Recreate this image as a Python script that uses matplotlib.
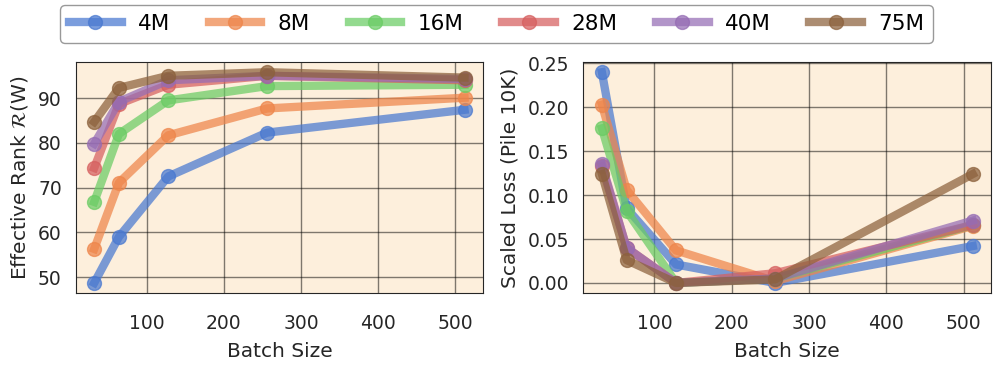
import matplotlib
matplotlib.use("Agg")
import matplotlib.pyplot as plt
import seaborn as sns

batch_sizes = [32, 64, 128, 256, 512]
model_names = ['4M', '8M', '16M', '28M', '40M', '75M']

# effective rank per model, one value per batch size
rank_4m = [48.7, 59.0, 72.5, 82.3, 87.4]
rank_8m = [56.3, 71.1, 81.7, 87.7, 90.1]
rank_16m = [66.8, 82.0, 89.5, 92.7, 93.0]
rank_28m = [74.4, 88.7, 93.0, 95.0, 94.0]
rank_40m = [79.8, 89.2, 94.0, 95.0, 94.3]
rank_75m = [84.7, 92.3, 95.0, 95.8, 94.6]

# scaled loss on pile 10K
loss_4m = [0.240, 0.085, 0.021, 0.000, 0.042]
loss_8m = [0.203, 0.106, 0.037, 0.002, 0.065]
loss_16m = [0.176, 0.082, 0.000, 0.005, 0.066]
loss_28m = [0.133, 0.040, 0.000, 0.011, 0.066]
loss_40m = [0.135, 0.040, 0.000, 0.005, 0.071]
loss_75m = [0.124, 0.026, 0.000, 0.004, 0.124]

rank_data = [rank_4m, rank_8m, rank_16m, rank_28m, rank_40m, rank_75m]
loss_data = [loss_4m, loss_8m, loss_16m, loss_28m, loss_40m, loss_75m]

colors = sns.color_palette('muted', 6)
bg = '#fdefdc'
txt = '#262626'

fig = plt.figure(figsize=(9.96, 3.65), dpi=100)
ax1 = fig.add_axes([0.076, 0.196, 0.409, 0.635])
ax2 = fig.add_axes([0.5857, 0.196, 0.4096, 0.635])

lines = []
for i, name in enumerate(model_names):
    l, = ax1.plot(batch_sizes, rank_data[i], marker='o', markersize=10, linewidth=6,
                  color=colors[i], alpha=0.72, label=name)
    ax2.plot(batch_sizes, loss_data[i], marker='o', markersize=10, linewidth=6,
             color=colors[i], alpha=0.72, label=name)
    lines.append(l)

for ax in (ax1, ax2):
    ax.set_facecolor(bg)
    ax.grid(True, color='black', alpha=0.5, linewidth=1)
    ax.set_axisbelow(True)
    ax.tick_params(length=0, labelsize=13.5, colors=txt)
    ax.tick_params(axis='x', pad=15)
    ax.tick_params(axis='y', pad=10)
    ax.set_xlabel('Batch Size', fontsize=14.5, color=txt, labelpad=6)
    ax.set_xticks([100, 200, 300, 400, 500])
    for s in ax.spines.values():
        s.set_color(txt)

ax1.set_yticks([50, 60, 70, 80, 90])
ax1.set_ylabel('Effective Rank $\\mathcal{R}$(W)', fontsize=14.5, color=txt, labelpad=6)
ax2.set_yticks([0.0, 0.05, 0.10, 0.15, 0.20, 0.25])
ax2.set_yticklabels(['0.00', '0.05', '0.10', '0.15', '0.20', '0.25'])
ax2.set_ylabel('Scaled Loss (Pile 10K)', fontsize=14.5, color=txt, labelpad=6)

fig.legend(handles=lines, loc='upper center', bbox_to_anchor=(0.4985, 1.015), ncol=6,
           fontsize=15.5, frameon=True, edgecolor='gray', handlelength=2.45,
           columnspacing=1.8, borderpad=0.4, handletextpad=0.75)

plt.savefig('out.png', dpi=100)
